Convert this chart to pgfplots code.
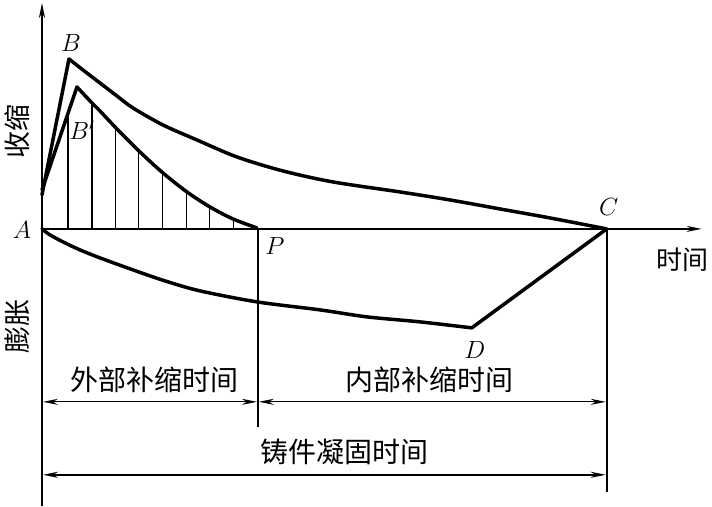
\documentclass[border=0pt]{standalone}
\usepackage{fontspec}
\usepackage{pgfplots}
\pgfplotsset{compat=1.18}
\usetikzlibrary{arrows.meta}
\newfontfamily\cjk{Noto Sans CJK SC}
\begin{document}
\begin{tikzpicture}
\begin{axis}[
  scale only axis, width=712pt, height=506pt,
  xmin=0, xmax=712, ymin=0, ymax=506, y dir=reverse,
  hide axis, clip=false,
  every axis plot/.append style={black, no marks, line join=round},
]
\path (rel axis cs:0,0) rectangle (rel axis cs:1,1);
% axes
\addplot[line width=2.2pt, -{Stealth[length=15pt,width=6pt]}] coordinates {(42,506) (42,3)};
\addplot[line width=1.2pt, -{Stealth[length=15pt,width=6pt]}] coordinates {(42,229) (702,229)};
% B curve
\addplot[line width=3.5pt, line cap=round] coordinates {(42,195) (69,59)};
\addplot[line width=3.5pt, line cap=round, smooth, tension=0.5] coordinates {(69,59) (83,70) (100,83) (117,96) (133,108) (163,125) (197,140) (237,157) (283,171) (333,182) (400,192) (450,200) (500,209) (550,218) (607,229)};
% B' curve
\addplot[line width=3.5pt, line cap=round] coordinates {(42,190) (77,87)};
\addplot[line width=3.5pt, line cap=round, smooth, tension=0.5] coordinates {(77,87) (92,103) (100,111) (117,129) (140,152) (163,173) (187,192) (210,207) (233,219) (257,228)};
% hatching
\addplot[line width=1.1pt] coordinates {(68,229) (68,114)};
\addplot[line width=1.1pt] coordinates {(92,229) (92,103)};
\addplot[line width=1.1pt] coordinates {(116,229) (116,127)};
\addplot[line width=1.1pt] coordinates {(139,229) (139,151)};
\addplot[line width=1.1pt] coordinates {(163,229) (163,173)};
\addplot[line width=1.1pt] coordinates {(187,229) (187,192)};
\addplot[line width=1.1pt] coordinates {(210,229) (210,207)};
\addplot[line width=1.1pt] coordinates {(234,229) (234,219)};
% lower curve A-D-C
\addplot[line width=3.5pt, line cap=round, smooth, tension=0.5] coordinates {(42,229) (50,235) (65,243) (80,250) (100,258) (133,270) (165,281) (200,291) (257,302) (320,310) (367,317) (420,322) (472,328)};
\addplot[line width=3.5pt, line cap=round] coordinates {(472,328) (607,229)};
% verticals
\addplot[line width=1.4pt] coordinates {(258,229) (258,427)};
\addplot[line width=1.6pt] coordinates {(607,229) (607,492)};
% dimension arrows
\addplot[line width=1.1pt, {Stealth[length=15pt,width=6pt]}-{Stealth[length=15pt,width=6pt]}] coordinates {(43,402) (257,402)};
\addplot[line width=1.1pt, {Stealth[length=15pt,width=6pt]}-{Stealth[length=15pt,width=6pt]}] coordinates {(259,402) (606,402)};
\addplot[line width=2.2pt, {Stealth[length=15pt,width=6pt]}-{Stealth[length=15pt,width=6pt]}] coordinates {(43,475) (606,475)};
% labels
\node[font=\fontsize{26}{28}\selectfont] at (axis cs:22,230) {$A$};
\node[font=\fontsize{26}{28}\selectfont] at (axis cs:71,43) {$B$};
\node[font=\fontsize{26}{28}\selectfont] at (axis cs:82,130) {$B'$};
\node[font=\fontsize{26}{28}\selectfont] at (axis cs:609,207) {$C$};
\node[font=\fontsize{26}{28}\selectfont] at (axis cs:275,246) {$P$};
\node[font=\fontsize{26}{28}\selectfont] at (axis cs:475,350) {$D$};
\node[font=\cjk\fontsize{26}{28}\selectfont] at (axis cs:683,260) {时间};
\node[font=\cjk\fontsize{27}{28}\selectfont, rotate=90] at (axis cs:17,132) {收缩};
\node[font=\cjk\fontsize{27}{28}\selectfont, rotate=90] at (axis cs:17,327) {膨胀};
\node[font=\cjk\fontsize{28}{30}\selectfont] at (axis cs:155,380) {外部补缩时间};
\node[font=\cjk\fontsize{28}{30}\selectfont] at (axis cs:430,380) {内部补缩时间};
\node[font=\cjk\fontsize{28}{30}\selectfont] at (axis cs:345,452) {铸件凝固时间};
\end{axis}
\end{tikzpicture}
\end{document}
